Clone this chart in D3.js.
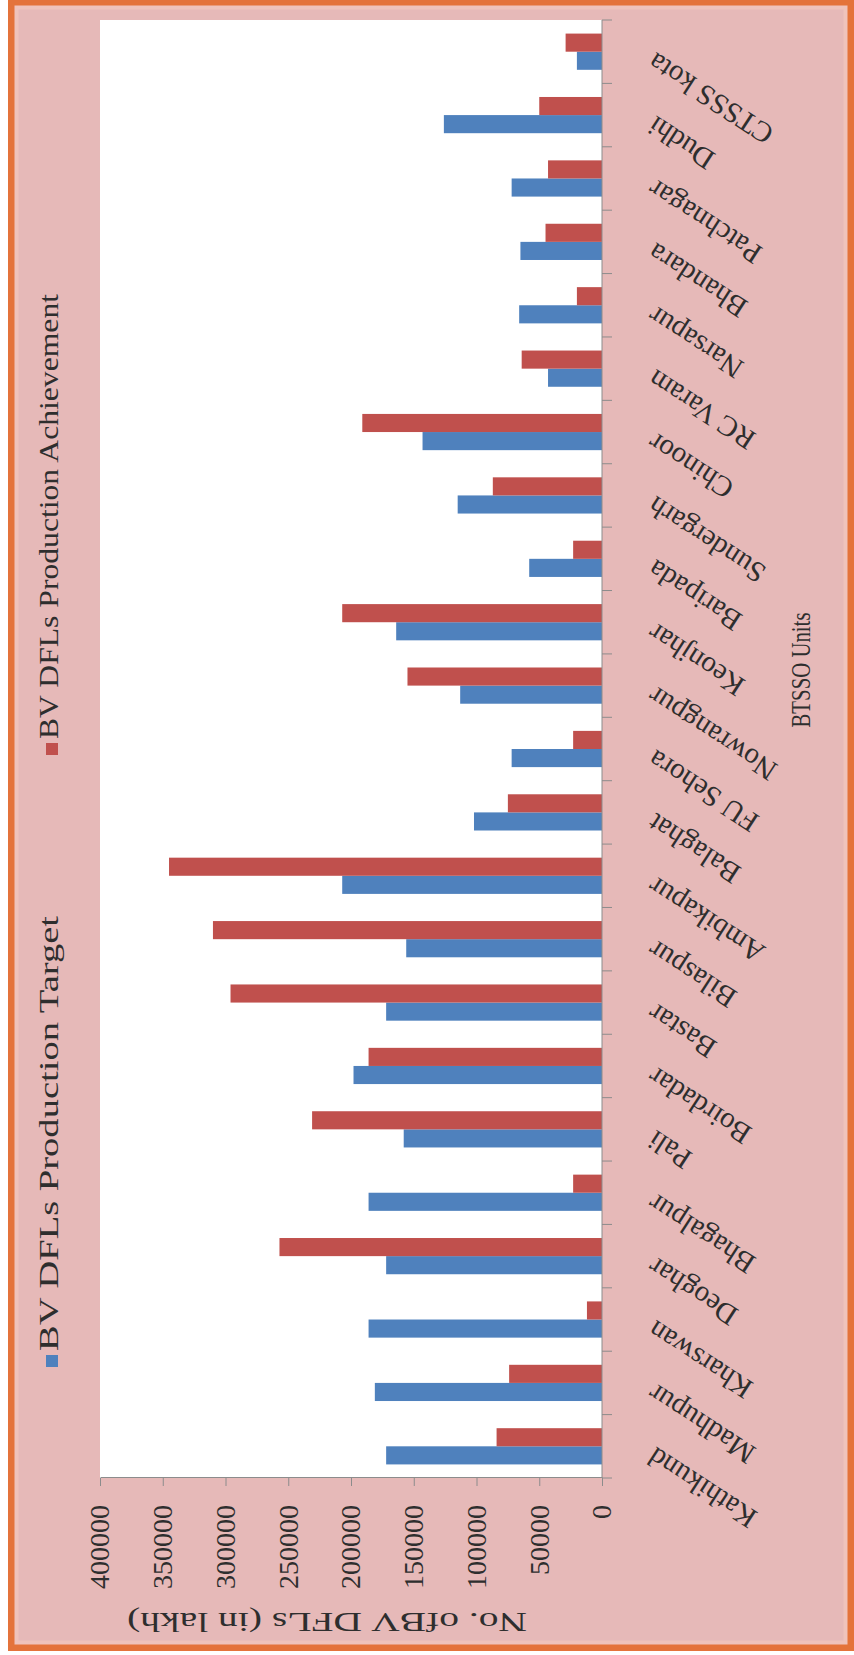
<!DOCTYPE html>
<html>
<head>
<meta charset="utf-8">
<script src="https://cdn.jsdelivr.net/npm/d3@7"></script>
<style>
  html, body { margin: 0; padding: 0; background: #fff; }
  svg { display: block; }
</style>
</head>
<body>
<svg id="chart" width="854" height="1655"></svg>
<script>
// BTSSO units, in display order
const units = ["Kathikund", "Madhupur", "Kharswan", "Deoghar", "Bhagalpur", "Pali",
  "Boirdadar", "Bastar", "Bilaspur", "Ambikapur", "Balaghat", "FU Sehora",
  "Nowrangpur", "Keonjhar", "Baripada", "Sundergarh", "Chinoor", "RC Varam",
  "Narsapur", "Bhandara", "Patchnagar", "Dudhi", "CTSSS kota"];

// BV DFLs production target per unit
const target = [172000, 181000, 186000, 172000, 186000, 158000,
  198000, 172000, 156000, 207000, 102000, 72000,
  113000, 164000, 58000, 115000, 143000, 43000,
  66000, 65000, 72000, 126000, 20000];

// BV DFLs production achievement per unit
const achievement = [84000, 74000, 12000, 257000, 23000, 231000,
  186000, 296000, 310000, 345000, 75000, 23000,
  155000, 207000, 23000, 87000, 191000, 64000,
  20000, 45000, 43000, 50000, 29000];

const seriesNames = ["BV DFLs Production Target", "BV DFLs Production Achievement"];
const seriesColors = ["#4f81bd", "#c0504d"];
const valueTicks = [0, 50000, 100000, 150000, 200000, 250000, 300000, 350000, 400000];

const axisTitle = "No. ofBV DFLs (in lakh)";
const categoryTitle = "BTSSO Units";

const W = 854, H = 1655;
const FONT = "'Liberation Serif', 'Times New Roman', serif";
const TEXT = "#2e2e2e";
const AXIS = "#8c8c8c";

const svg = d3.select("#chart");

// page frame: pink chart area with an orange rim
svg.append("rect").attr("width", W).attr("height", H).attr("fill", "#fff");
svg.append("rect")
  .attr("x", 11.5).attr("y", 2.5).attr("width", 839).attr("height", 1645)
  .attr("fill", "#e6b9b8").attr("stroke", "#e4733b").attr("stroke-width", 7);
svg.append("rect")
  .attr("x", 16.5).attr("y", 7.5).attr("width", 829).attr("height", 1635)
  .attr("fill", "none").attr("stroke", "#efc3bc").attr("stroke-width", 4);

// The chart is laid out as an ordinary column chart (categories along x,
// values along y) and then turned a quarter turn counter-clockwise.
const g = svg.append("g").attr("transform", `translate(0,${H}) rotate(-90)`);

const plot = { left: 177, right: 1635, top: 100, bottom: 602 };

const x = d3.scaleBand().domain(units).range([plot.left, plot.right]);
const xs = d3.scaleBand().domain([0, 1]).range([0, x.bandwidth()])
  .paddingInner(0).paddingOuter(0.75);
const y = d3.scaleLinear().domain([0, 400000]).range([plot.bottom, plot.top]);

// plot area
g.append("rect")
  .attr("x", plot.left).attr("y", plot.top)
  .attr("width", plot.right - plot.left).attr("height", plot.bottom - plot.top)
  .attr("fill", "#fff");

// bars
const series = [target, achievement];
series.forEach((vals, s) => {
  g.append("g").selectAll("rect")
    .data(units.map((u, i) => ({ u, v: vals[i] })))
    .join("rect")
    .attr("x", d => x(d.u) + xs(s))
    .attr("width", xs.bandwidth())
    .attr("y", d => y(d.v))
    .attr("height", d => y(0) - y(d.v))
    .attr("fill", seriesColors[s]);
});

// value axis
const yAxis = g.append("g")
  .attr("transform", `translate(${plot.left},0)`)
  .call(d3.axisLeft(y).tickValues(valueTicks).tickFormat(d3.format("d"))
    .tickSize(8).tickSizeOuter(0).tickPadding(19));
yAxis.select(".domain").attr("stroke", AXIS);
yAxis.selectAll(".tick line").attr("stroke", AXIS);
yAxis.selectAll(".tick text")
  .attr("font-family", FONT).attr("font-size", 28).attr("fill", TEXT);

// category axis line with ticks on band boundaries
g.append("line")
  .attr("x1", plot.left).attr("x2", plot.right)
  .attr("y1", plot.bottom).attr("y2", plot.bottom)
  .attr("stroke", AXIS);
const bounds = units.map(u => x(u)).concat([x(units[units.length - 1]) + x.bandwidth()]);
g.append("g").selectAll("line")
  .data(bounds).join("line")
  .attr("x1", d => d).attr("x2", d => d)
  .attr("y1", plot.bottom).attr("y2", plot.bottom + 10)
  .attr("stroke", AXIS);

// slanted category labels
g.append("g").selectAll("text")
  .data(units).join("text")
  .attr("transform", d => `translate(${x(d) + x.bandwidth() / 2},${plot.bottom + 54}) rotate(-57)`)
  .attr("text-anchor", "end")
  .attr("font-family", FONT).attr("font-size", 29).attr("fill", TEXT)
  .text(d => d);

// value axis title
g.append("text")
  .attr("transform", `translate(42,327) rotate(-90)`)
  .attr("text-anchor", "middle")
  .attr("font-family", FONT).attr("font-size", 28).attr("fill", TEXT)
  .attr("textLength", 400).attr("lengthAdjust", "spacingAndGlyphs")
  .text(axisTitle);

// category axis title
g.append("text")
  .attr("x", 985).attr("y", 810)
  .attr("text-anchor", "middle")
  .attr("font-family", FONT).attr("font-size", 28).attr("fill", TEXT)
  .attr("textLength", 115).attr("lengthAdjust", "spacingAndGlyphs")
  .text(categoryTitle);

// legend
const legendX = [288, 900];
const legendLen = [435, 445];
const legend = g.append("g").selectAll("g")
  .data(seriesNames).join("g")
  .attr("transform", (d, i) => `translate(${legendX[i]},58)`);
legend.append("rect")
  .attr("x", 0).attr("y", -12).attr("width", 12).attr("height", 12)
  .attr("fill", (d, i) => seriesColors[i]);
legend.append("text")
  .attr("x", 16).attr("y", 0)
  .attr("font-family", FONT).attr("font-size", 28).attr("fill", TEXT)
  .attr("textLength", (d, i) => legendLen[i]).attr("lengthAdjust", "spacingAndGlyphs")
  .text(d => d);
</script>
</body>
</html>
